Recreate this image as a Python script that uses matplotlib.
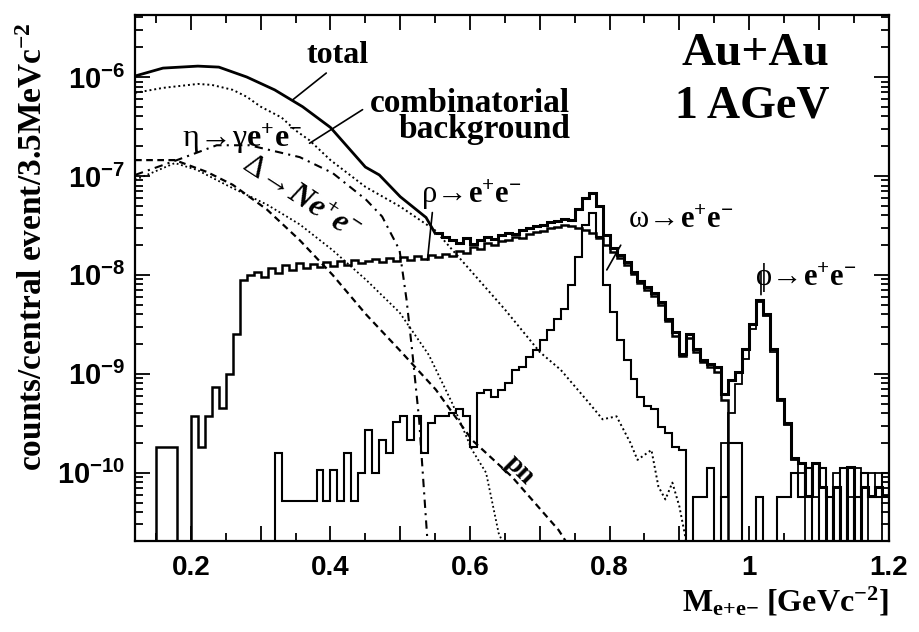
import numpy as np
import matplotlib
matplotlib.use('Agg')
import matplotlib.pyplot as plt
from matplotlib.ticker import FixedLocator, LogLocator, NullFormatter, FuncFormatter

plt.rcParams['mathtext.fontset'] = 'custom'
plt.rcParams['mathtext.rm'] = 'Liberation Serif'
plt.rcParams['mathtext.it'] = 'Liberation Serif:italic'
plt.rcParams['mathtext.bf'] = 'Liberation Serif:bold'
plt.rcParams['mathtext.bfit'] = 'Liberation Serif:italic:bold'
plt.rcParams['mathtext.sf'] = 'Liberation Sans:bold'

# ---- smooth model curves: mass [GeV/c^2] and log10(counts/event/3.5MeV) ----
total_m = [0.12, 0.16, 0.21, 0.24, 0.28, 0.32, 0.36, 0.40, 0.45, 0.47, 0.50, 0.537, 0.55]
total_log = [-5.99, -5.91, -5.89, -5.90, -6.00, -6.13, -6.30, -6.51, -6.91, -6.99, -7.21, -7.42, -7.58]

comb_m = [0.12, 0.16, 0.21, 0.23, 0.26, 0.28, 0.30, 0.33, 0.35, 0.37, 0.40, 0.45, 0.50,
          0.55, 0.60, 0.65, 0.70, 0.73, 0.77, 0.79, 0.81, 0.83, 0.84, 0.86, 0.87,
          0.88, 0.89, 0.90, 0.91]
comb_log = [-6.16, -6.11, -6.07, -6.08, -6.13, -6.20, -6.30, -6.41, -6.54, -6.64, -6.84, -7.11, -7.31,
            -7.55, -7.95, -8.35, -8.78, -8.96, -9.29, -9.46, -9.43, -9.70, -9.87, -9.77, -10.14,
            -10.27, -10.10, -10.34, -10.70]

eta_m = [0.12, 0.18, 0.237, 0.284, 0.356, 0.403, 0.451, 0.474, 0.499, 0.509, 0.517, 0.527, 0.539]
eta_log = [-6.99, -6.84, -6.69, -6.69, -6.81, -6.97, -7.24, -7.41, -7.75, -8.25, -8.76, -9.46, -10.69]

delta_m = [0.12, 0.177, 0.209, 0.256, 0.309, 0.356, 0.403, 0.451, 0.499, 0.541, 0.574, 0.603,
           0.623, 0.631, 0.641, 0.646]
delta_log = [-7.04, -6.87, -6.94, -7.11, -7.29, -7.49, -7.75, -8.05, -8.38, -8.81, -9.29, -9.77,
             -10.0, -10.27, -10.61, -10.69]

pn_m = [0.12, 0.177, 0.223, 0.26, 0.309, 0.356, 0.403, 0.451, 0.499, 0.551, 0.603, 0.66, 0.727, 0.737]
pn_log = [-6.84, -6.84, -6.96, -7.09, -7.34, -7.65, -8.00, -8.40, -8.76, -9.16, -9.67, -10.04,
          -10.58, -10.69]

# ---- histograms, 10 MeV bins, log10 content (-12 = empty bin) ----
BIN = 0.01

total_h_start = 0.55
total_h_log = [-7.58, -7.62, -7.65, -7.68, -7.63, -7.69, -7.65, -7.62, -7.64, -7.60,
               -7.58, -7.59, -7.55, -7.53, -7.51, -7.50, -7.47, -7.46, -7.44, -7.45,
               -7.33, -7.22, -7.17, -7.30, -7.60, -7.73, -7.80, -7.87, -7.97, -8.06,
               -8.12, -8.18, -8.27, -8.45, -8.58, -8.80, -8.60, -8.75, -8.86, -8.90,
               -8.93, -9.20, -9.06, -8.98, -8.75, -8.50, -8.25, -8.40, -8.75, -9.25,
               -9.50, -9.85, -9.90, -10.24, -9.90, -10.14, -12, -10.14, -12, -9.94,
               -12, -10.14, -10.24, -10.14, -10.24]

rho_start = 0.15
rho_log = [-9.74, -9.74, -9.74, -12, -12, -9.43, -9.74, -9.43, -9.13, -9.35,
           -9.00, -8.60, -8.05, -8.00, -7.97, -8.02, -7.93, -7.98, -7.90, -7.95,
           -7.88, -7.93, -7.89, -7.92, -7.87, -7.91, -7.86, -7.90, -7.85, -7.88,
           -7.86, -7.84, -7.87, -7.83, -7.86, -7.82, -7.85, -7.81, -7.84, -7.80,
           -7.82, -7.79, -7.81, -7.76, -7.78, -7.72, -7.74, -7.68, -7.70, -7.66,
           -7.65, -7.62, -7.63, -7.59, -7.57, -7.56, -7.53, -7.52, -7.50, -7.51,
           -7.53, -7.55, -7.58, -7.63, -7.70, -7.77, -7.83, -7.90, -7.99, -8.08,
           -8.15, -8.21, -8.30, -8.47, -8.62, -8.82, -8.64, -8.78, -8.88, -8.93,
           -8.98, -9.26]

omega_start = 0.32
omega_log = [-9.80, -10.29, -10.29, -10.29, -10.29, -10.29, -9.97, -10.29, -9.97, -10.29,
             -9.80, -10.29, -10.00, -9.57, -10.00, -9.67, -9.80, -9.49, -9.43, -9.67,
             -9.43, -9.80, -9.50, -9.43, -9.43, -9.40, -9.36, -9.43, -9.74, -9.19,
             -9.16, -9.23, -9.16, -9.09, -8.96, -8.93, -8.83, -8.76, -8.66, -8.56,
             -8.45, -8.35, -8.10, -7.82, -7.50, -7.37, -7.62, -8.10, -8.38, -8.66,
             -8.86, -9.05, -9.23, -9.33, -9.36, -9.54, -9.60, -9.74, -9.77, -12,
             -10.25, -10.25, -9.95, -12, -10.25, -9.70, -9.70, -12, -12, -10.25,
             -12, -12, -10.25, -10.25, -10.00, -10.25, -9.95, -12, -9.95, -10.25,
             -12, -9.95, -12, -10.25, -10.00, -10.25, -10.25, -10.00]

phi_start = 0.96
phi_log = [-9.70, -9.40, -9.10, -8.85, -8.55, -8.27, -8.42, -8.78, -9.27, -9.52,
           -9.87, -10.00, -12, -10.25, -12, -10.25, -10.00, -12, -10.25, -9.95,
           -12, -10.00, -10.25, -12]

y_decades = [-10, -9, -8, -7, -6]
x_major = [0.2, 0.3, 0.4, 0.5, 0.6, 0.7, 0.8, 0.9, 1.0, 1.1, 1.2]
x_minor = [0.15, 0.25, 0.35, 0.45, 0.55, 0.65, 0.75, 0.85, 0.95, 1.05, 1.15]
x_labels = {0.2: '0.2', 0.4: '0.4', 0.6: '0.6', 0.8: '0.8', 1.0: '1', 1.2: '1.2'}


def edges(start, n):
    return np.round(start + BIN * np.arange(n + 1), 3)


def lin(v):
    return 10.0 ** np.asarray(v)


fig = plt.figure(figsize=(9.19, 6.32), dpi=100)
ax = fig.add_axes([0.147, 0.144, 0.820, 0.832])
ax.set_yscale('log')
ax.set_xlim(0.12, 1.2)
ax.set_ylim(10 ** -10.69, 10 ** -5.375)

# histograms
ax.stairs(lin(rho_log), edges(rho_start, len(rho_log)), baseline=1e-12, color='k', lw=1.8)
ax.stairs(lin(omega_log), edges(omega_start, len(omega_log)), baseline=1e-12, color='k', lw=1.5)
ax.stairs(lin(phi_log), edges(phi_start, len(phi_log)), baseline=1e-12, color='k', lw=1.3)
ax.stairs(lin(total_h_log), edges(total_h_start, len(total_h_log)), baseline=None, color='k', lw=2.2)

# smooth curves
ax.plot(total_m, lin(total_log), color='k', lw=2.0)
ax.plot(comb_m, lin(comb_log), color='k', lw=1.4, ls=(0, (1, 1.5)))
ax.plot(eta_m, lin(eta_log), color='k', lw=1.5, ls=(0, (4, 2.5, 1, 2.5)))
ax.plot(delta_m, lin(delta_log), color='k', lw=1.3, ls=(0, (1, 1.5)))
ax.plot(pn_m, lin(pn_log), color='k', lw=1.6, ls=(0, (3, 2)))

# axes styling
for s in ax.spines.values():
    s.set_linewidth(1.6)
ax.tick_params(which='both', direction='in', top=True, right=True, width=1.3)
ax.tick_params(which='major', length=11)
ax.tick_params(which='minor', length=6)
ax.tick_params(axis='x', pad=10, labelsize=20)
ax.tick_params(axis='y', pad=7, labelsize=21)

ax.xaxis.set_major_locator(FixedLocator(x_major))
ax.xaxis.set_minor_locator(FixedLocator(x_minor))
ax.xaxis.set_major_formatter(FuncFormatter(lambda v, p: x_labels.get(round(v, 2), '')))
for t in ax.get_xticklabels():
    t.set_fontfamily('Liberation Sans')
    t.set_fontweight('bold')

ax.yaxis.set_major_locator(FixedLocator([10.0 ** d for d in y_decades]))
ax.yaxis.set_minor_locator(LogLocator(base=10, subs=np.arange(2, 10), numticks=20))
ax.yaxis.set_minor_formatter(NullFormatter())
ax.yaxis.set_major_formatter(FuncFormatter(lambda v, p: r'$\mathsf{10^{%d}}$' % round(np.log10(v))))

serif = 'Liberation Serif'
ax.set_ylabel(r'$\mathbf{counts/central\ event/3.5MeVc^{-2}}$', fontsize=24)
ax.yaxis.set_label_coords(-0.115, 0.56)
ax.set_xlabel(r'$\mathbf{M_{e{+}e{-}}\ [GeVc^{-2}]}$', fontsize=23)
ax.xaxis.set_label_coords(1.0, -0.085)
ax.xaxis.label.set_horizontalalignment('right')

arr = r'\!\rightarrow\!'
# annotations
ax.text(1.009, 10 ** -5.77, 'Au+Au', family=serif, weight='bold', fontsize=34, ha='center', va='center')
ax.text(1.004, 10 ** -6.30, '1 AGeV', family=serif, weight='bold', fontsize=33, ha='center', va='center')
ax.text(0.41, 10 ** -5.78, 'total', family=serif, weight='bold', fontsize=23, ha='center', va='center')
ax.text(0.744, 10 ** -6.40, 'combinatorial\nbackground', family=serif, weight='bold', fontsize=24,
        ha='right', va='center', multialignment='right', linespacing=0.82)
ax.text(0.187, 10 ** -6.71, r'$\mathrm{\eta}' + arr + r'\mathrm{\gamma}\mathbf{e^{+}e^{-}}$', fontsize=23,
        ha='left', va='baseline')
ax.text(0.358, 10 ** -7.22, r'$\Delta' + arr + r'\mathbfit{Ne^{+}e^{-}}$', fontsize=23,
        ha='center', va='center', rotation=-33)
ax.text(0.53, 10 ** -7.27, r'$\mathrm{\rho}' + arr + r'\mathbf{e^{+}e^{-}}$', fontsize=22, ha='left', va='baseline')
ax.text(0.827, 10 ** -7.53, r'$\mathrm{\omega}' + arr + r'\mathbf{e^{+}e^{-}}$', fontsize=22, ha='left', va='baseline')
ax.text(1.009, 10 ** -8.11, r'$\mathrm{\phi}' + arr + r'\mathbf{e^{+}e^{-}}$', fontsize=22, ha='left', va='baseline')
ax.text(0.671, 10 ** -9.97, 'pn', family=serif, weight='bold', fontsize=20, ha='center', va='center', rotation=-45)

# leader lines
lp = dict(arrowstyle='-', color='k', lw=1.2, shrinkA=0, shrinkB=0)
ax.annotate('', xy=(0.346, 10 ** -6.23), xytext=(0.394, 10 ** -5.96), arrowprops=lp)
ax.annotate('', xy=(0.37, 10 ** -6.67), xytext=(0.446, 10 ** -6.33), arrowprops=lp)
ax.annotate('', xy=(0.539, 10 ** -7.85), xytext=(0.546, 10 ** -7.37), arrowprops=lp)
ax.annotate('', xy=(0.796, 10 ** -7.95), xytext=(0.816, 10 ** -7.70), arrowprops=lp)
ax.annotate('', xy=(1.017, 10 ** -8.20), xytext=(1.017, 10 ** -7.97), arrowprops=lp)

fig.savefig('out.png', dpi=100)
